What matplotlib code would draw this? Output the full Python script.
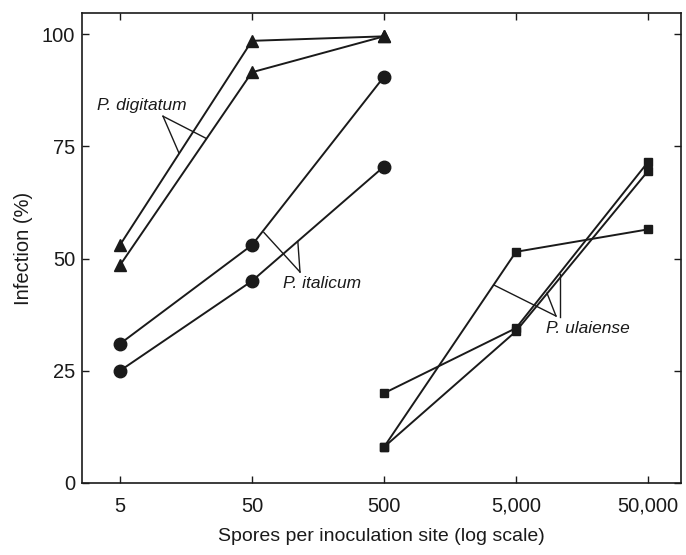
import matplotlib
matplotlib.use("Agg")
import matplotlib.pyplot as plt
from matplotlib.ticker import FixedLocator, NullLocator

plt.rcParams['font.family'] = ['Liberation Sans', 'DejaVu Sans']

# Data
spores_low = [5, 50, 500]
spores_high = [500, 5000, 50000]
digitatum_1 = [53, 98.5, 99.5]
digitatum_2 = [48.5, 91.5, 99.5]
italicum_1 = [31, 53, 90.5]
italicum_2 = [25, 45, 70.5]
ulaiense_1 = [20, 34.5, 71.5]
ulaiense_2 = [8, 33.8, 69.5]
ulaiense_3 = [8, 51.5, 56.5]

xticks = [5, 50, 500, 5000, 50000]
xticklabels = ['5', '50', '500', '5,000', '50,000']
yticks = [0, 25, 50, 75, 100]

ink = '#1a1a1a'

fig = plt.figure(figsize=(6.86, 5.55), dpi=100)
ax = fig.add_axes([82/686, 1-483/555, (681-82)/686, (483-13)/555])

lw = 1.4
for ys in (digitatum_1, digitatum_2):
    ax.plot(spores_low, ys, color=ink, lw=lw, marker='^', ms=8.5, mfc=ink, mec=ink)
for ys in (italicum_1, italicum_2):
    ax.plot(spores_low, ys, color=ink, lw=lw, marker='o', ms=9, mfc=ink, mec=ink)
for ys in (ulaiense_1, ulaiense_2, ulaiense_3):
    ax.plot(spores_high, ys, color=ink, lw=lw, marker='s', ms=5.5, mfc=ink, mec=ink)

ax.set_xscale('log')
ax.set_xlim(2.58, 88900)
ax.set_ylim(0, 104.7)
ax.xaxis.set_major_locator(FixedLocator(xticks))
ax.xaxis.set_minor_locator(NullLocator())
ax.set_xticklabels(xticklabels)
ax.set_yticks(yticks)

ax.tick_params(axis='both', which='major', direction='in', length=5, width=1,
               color=ink, labelsize=14.5, labelcolor=ink,
               top=True, right=True)
ax.tick_params(axis='x', pad=10)
ax.tick_params(axis='y', pad=5)
for s in ax.spines.values():
    s.set_linewidth(1.2)
    s.set_color(ink)

ax.set_xlabel('Spores per inoculation site (log scale)', fontsize=14, color=ink, labelpad=9)
ax.set_ylabel('Infection (%)', fontsize=14.5, color=ink, labelpad=6)

# Annotations with leader lines
ll = dict(color=ink, lw=1.0)
ax.text(7.34, 84.0, 'P. digitatum', style='italic', fontsize=12.5, color=ink,
        ha='center', va='center')
ax.plot([10.6, 14.0], [81.7, 73.5], **ll)
ax.plot([10.6, 22.4], [81.7, 76.8], **ll)

ax.text(169.6, 44.5, 'P. italicum', style='italic', fontsize=12.5, color=ink,
        ha='center', va='center')
ax.plot([115.6, 61.6], [47.0, 55.8], **ll)
ax.plot([115.6, 111.3], [47.0, 53.8], **ll)

ax.text(17550, 34.5, 'P. ulaiense', style='italic', fontsize=12.5, color=ink,
        ha='center', va='center')
ax.plot([10045, 3405], [37.2, 44.1], **ll)
ax.plot([10045, 8590], [37.2, 42.3], **ll)
ax.plot([10772, 10772], [37.0, 46.5], **ll)

fig.savefig('out.png', dpi=100)
